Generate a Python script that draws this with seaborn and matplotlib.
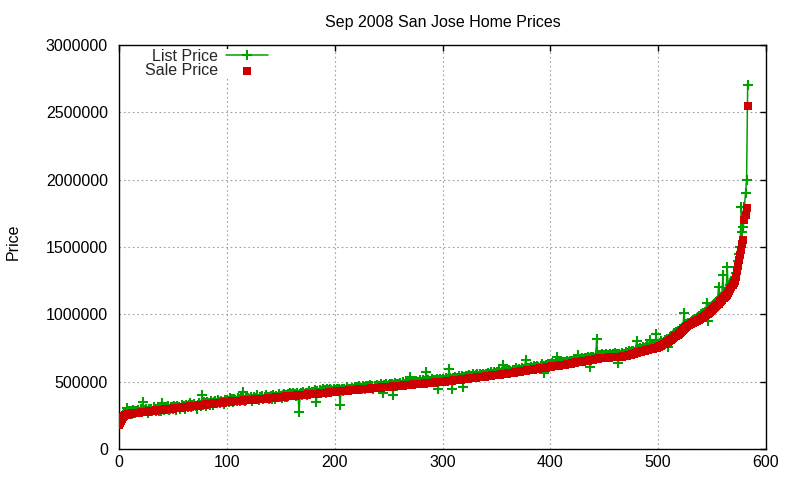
import matplotlib
matplotlib.use("Agg")
import matplotlib.pyplot as plt
import numpy as np
import pandas as pd
import seaborn as sns
from matplotlib.ticker import FuncFormatter

# ---------------- data (prices in thousands of dollars) ----------------
sale_price_k = [
    175, 190, 205, 222, 236, 245, 250, 254, 257, 259, 262, 263, 264, 265, 266, 267, 268, 269, 270, 271,
    272, 273, 274, 275, 275, 276, 277, 278, 279, 280, 282, 283, 284, 285, 286, 287, 288, 289, 290, 290,
    291, 292, 293, 294, 295, 295, 296, 297, 298, 299, 300, 301, 302, 303, 304, 305, 306, 307, 308, 309,
    310, 310, 312, 313, 314, 315, 316, 318, 318, 319, 320, 321, 323, 323, 324, 325, 326, 328, 328, 329,
    330, 331, 332, 333, 334, 335, 335, 337, 338, 339, 340, 341, 342, 343, 344, 345, 345, 347, 348, 349,
    350, 350, 351, 352, 352, 353, 354, 355, 355, 356, 357, 358, 359, 359, 360, 360, 361, 362, 363, 364,
    364, 364, 365, 366, 366, 367, 368, 368, 369, 370, 370, 371, 372, 372, 373, 374, 374, 375, 376, 377,
    378, 379, 380, 380, 381, 382, 383, 384, 385, 385, 386, 387, 388, 389, 389, 390, 391, 392, 393, 393,
    394, 395, 396, 396, 397, 398, 399, 399, 400, 400, 401, 402, 403, 403, 404, 405, 406, 406, 407, 408,
    409, 409, 410, 411, 412, 412, 413, 414, 415, 415, 416, 417, 418, 418, 419, 420, 421, 421, 422, 423,
    425, 426, 427, 427, 428, 429, 430, 430, 431, 432, 433, 433, 434, 435, 436, 436, 437, 438, 439, 439,
    440, 441, 442, 442, 443, 444, 445, 445, 446, 447, 448, 448, 449, 449, 450, 450, 451, 452, 453, 453,
    454, 455, 456, 456, 457, 458, 459, 459, 460, 461, 462, 462, 463, 464, 465, 465, 466, 467, 468, 468,
    469, 470, 471, 471, 472, 473, 474, 474, 475, 476, 477, 477, 478, 479, 480, 480, 481, 482, 483, 483,
    484, 485, 486, 486, 487, 488, 489, 489, 490, 491, 492, 492, 493, 494, 495, 495, 496, 497, 498, 499,
    499, 500, 501, 502, 503, 504, 505, 506, 507, 508, 509, 510, 511, 512, 513, 514, 515, 516, 517, 518,
    519, 520, 521, 522, 523, 524, 525, 526, 527, 528, 529, 530, 531, 532, 533, 534, 535, 536, 537, 538,
    539, 540, 541, 542, 543, 545, 546, 547, 548, 549, 550, 551, 552, 553, 554, 555, 556, 557, 558, 559,
    560, 561, 563, 564, 565, 566, 568, 569, 570, 571, 573, 574, 575, 576, 578, 579, 580, 581, 583, 584,
    585, 586, 588, 589, 590, 591, 593, 594, 595, 596, 598, 599, 600, 601, 603, 604, 605, 606, 608, 609,
    610, 611, 613, 614, 615, 616, 618, 619, 620, 621, 622, 623, 625, 626, 627, 628, 630, 631, 632, 634,
    635, 637, 639, 641, 643, 644, 645, 646, 648, 649, 650, 651, 653, 654, 655, 656, 658, 659, 660, 662,
    663, 666, 668, 670, 672, 675, 675, 676, 676, 677, 677, 678, 678, 679, 679, 680, 680, 681, 681, 682,
    682, 683, 683, 684, 684, 685, 686, 687, 688, 689, 691, 693, 695, 697, 699, 701, 703, 706, 709, 712,
    715, 717, 719, 721, 723, 725, 727, 729, 731, 733, 735, 737, 739, 741, 743, 745, 747, 749, 751, 753,
    756, 760, 764, 768, 772, 777, 782, 787, 792, 797, 802, 807, 812, 818, 824, 830, 836, 842, 849, 856,
    863, 870, 878, 886, 894, 902, 908, 913, 918, 923, 928, 932, 936, 940, 944, 948, 952, 956, 960, 965,
    970, 976, 982, 988, 994, 1000, 1006, 1012, 1018, 1024, 1030, 1036, 1044, 1054, 1062, 1070, 1080, 1090, 1100, 1110,
    1118, 1125, 1131, 1137, 1143, 1155, 1170, 1185, 1200, 1215, 1230, 1250, 1280, 1320, 1360, 1400, 1440, 1480, 1520, 1550,
    1700, 1740, 1790, 2550,
]

list_price_k = [
    179, 199, 215, 229, 249, 259, 270, 304, 262, 285, 269, 279, 262, 290, 282, 270, 285, 275, 289, 278,
    299, 280, 352, 289, 279, 295, 285, 269, 299, 289, 299, 279, 310, 295, 280, 299, 309, 285, 299, 279,
    340, 299, 289, 310, 305, 319, 289, 299, 315, 310, 299, 320, 309, 290, 319, 315, 310, 299, 329, 315,
    319, 299, 330, 320, 309, 329, 339, 310, 325, 320, 335, 319, 299, 330, 339, 329, 320, 400, 329, 349,
    339, 320, 349, 345, 329, 359, 340, 330, 349, 359, 345, 339, 365, 350, 339, 359, 349, 335, 365, 355,
    365, 359, 349, 379, 360, 369, 350, 375, 365, 359, 379, 369, 355, 389, 370, 425, 365, 359, 385, 375,
    379, 369, 389, 359, 375, 385, 369, 379, 399, 375, 365, 389, 379, 395, 369, 385, 399, 379, 389, 375,
    389, 395, 375, 399, 385, 369, 395, 389, 409, 385, 395, 379, 399, 410, 389, 399, 385, 405, 399, 415,
    405, 419, 399, 409, 395, 415, 399, 275, 410, 419, 399, 425, 409, 419, 399, 415, 429, 409, 419, 425,
    425, 419, 435, 349, 429, 419, 439, 425, 429, 445, 425, 439, 419, 445, 435, 429, 449, 439, 429, 445,
    439, 429, 445, 435, 449, 330, 439, 449, 429, 445, 439, 459, 435, 449, 445, 439, 455, 449, 445, 459,
    449, 459, 445, 465, 455, 449, 469, 459, 449, 465, 459, 469, 455, 475, 459, 465, 449, 469, 459, 475,
    465, 469, 459, 479, 469, 415, 475, 465, 479, 469, 475, 485, 469, 479, 400, 475, 489, 479, 469, 485,
    479, 489, 475, 495, 485, 479, 499, 489, 479, 495, 537, 489, 499, 485, 495, 505, 489, 499, 495, 509,
    495, 499, 509, 495, 505, 574, 499, 515, 505, 499, 519, 509, 499, 515, 505, 519, 445, 509, 519, 515,
    519, 509, 515, 529, 519, 509, 594, 525, 519, 445, 529, 519, 535, 525, 519, 539, 529, 525, 545, 460,
    535, 529, 545, 539, 529, 549, 539, 535, 555, 545, 539, 549, 559, 545, 539, 555, 549, 545, 559, 549,
    555, 549, 565, 559, 549, 569, 559, 555, 575, 565, 559, 569, 579, 565, 559, 575, 623, 565, 579, 569,
    579, 569, 589, 579, 575, 589, 579, 585, 599, 589, 579, 595, 589, 585, 599, 589, 595, 660, 599, 595,
    599, 595, 609, 599, 605, 619, 609, 599, 619, 609, 605, 619, 629, 615, 566, 619, 625, 619, 629, 625,
    629, 619, 635, 629, 625, 639, 685, 635, 629, 645, 639, 635, 649, 639, 645, 655, 649, 639, 655, 649,
    655, 649, 665, 659, 655, 669, 698, 665, 659, 675, 669, 665, 679, 669, 675, 685, 679, 611, 685, 679,
    685, 679, 695, 815, 689, 699, 689, 695, 705, 699, 689, 699, 705, 695, 699, 709, 699, 695, 705, 699,
    715, 699, 705, 638, 709, 699, 715, 705, 699, 709, 719, 715, 709, 725, 719, 715, 729, 725, 719, 735,
    800, 729, 739, 749, 735, 745, 759, 749, 739, 755, 765, 759, 809, 769, 759, 779, 769, 765, 853, 779,
    779, 769, 789, 799, 779, 795, 809, 799, 819, 757, 815, 829, 839, 829, 849, 859, 849, 869, 879, 869,
    889, 879, 899, 909, 1010, 919, 925, 929, 935, 939, 945, 949, 955, 959, 965, 969, 975, 979, 985, 989,
    1000, 999, 1009, 1015, 1019, 1083, 952, 1029, 1039, 1049, 1059, 1069, 1075, 1085, 1095, 1099, 1205, 1119, 1129, 1139,
    1292, 1149, 1159, 1169, 1353, 1189, 1199, 1219, 1229, 1249, 1259, 1279, 1309, 1349, 1399, 1449, 1499, 1800, 1610, 1649,
    1799, 1899, 1999, 2700,
]

x_ticks = [0, 100, 200, 300, 400, 500, 600]
y_ticks = [0, 500000, 1000000, 1500000, 2000000, 2500000, 3000000]
title_text = "Sep 2008 San Jose Home Prices"
y_label = "Price"
series_labels = ["List Price", "Sale Price"]

assert len(sale_price_k) == len(list_price_k)

# ---------------- plotting ----------------
sns.set_theme(style="white")
plt.rcParams["font.family"] = ["Liberation Sans", "DejaVu Sans"]

GREEN = "#00a000"
RED = "#cc0000"
FS = 11.5

df = pd.DataFrame({
    "home": np.arange(len(sale_price_k)),
    "list": np.array(list_price_k) * 1000,
    "sale": np.array(sale_price_k) * 1000,
})

fig = plt.figure(figsize=(8, 4.8), dpi=100)
ax = fig.add_axes([119 / 800, 31 / 480, 647 / 800, 404 / 480])

sns.lineplot(data=df, x="home", y="list", ax=ax, color=GREEN, linewidth=1.1,
             marker="+", markersize=7.5, markeredgewidth=1.5, markeredgecolor=GREEN,
             label=series_labels[0], zorder=2)
sns.scatterplot(data=df, x="home", y="sale", ax=ax, color=RED, marker="s", s=36,
                linewidth=0, label=series_labels[1], zorder=3)

ax.set_xlim(x_ticks[0], x_ticks[-1])
ax.set_ylim(y_ticks[0], y_ticks[-1])
ax.set_xticks(x_ticks)
ax.set_yticks(y_ticks)
ax.yaxis.set_major_formatter(FuncFormatter(lambda v, p: f"{int(round(v))}"))

ax.grid(True, color="#a0a0a0", linestyle=(0, (1.5, 2.5)), linewidth=0.8)
for s in ax.spines.values():
    s.set_visible(True)
    s.set_color("black")
    s.set_linewidth(1.0)

ax.tick_params(axis="both", direction="in", length=4.5, width=1.0, color="black",
               top=True, right=True, labelsize=FS, labelcolor="black")
ax.tick_params(axis="x", pad=4.0)
ax.tick_params(axis="y", pad=8.0)

ax.set_xlabel("")
ax.set_ylabel(y_label, fontsize=FS, color="black")
ax.yaxis.set_label_coords(-0.152, 0.512)
ax.set_title(title_text, fontsize=FS, color="black", pad=13.3)

leg = ax.legend(loc="upper right", bbox_to_anchor=((268 - 119) / 647, (449 - 49) / 404),
                markerfirst=False, frameon=True, fancybox=False, framealpha=1,
                facecolor="white", edgecolor="none", fontsize=FS,
                handlelength=2.6, handletextpad=0.55, labelspacing=-0.05,
                borderpad=0.0, borderaxespad=0.0)

fig.savefig("out.png", dpi=100)
